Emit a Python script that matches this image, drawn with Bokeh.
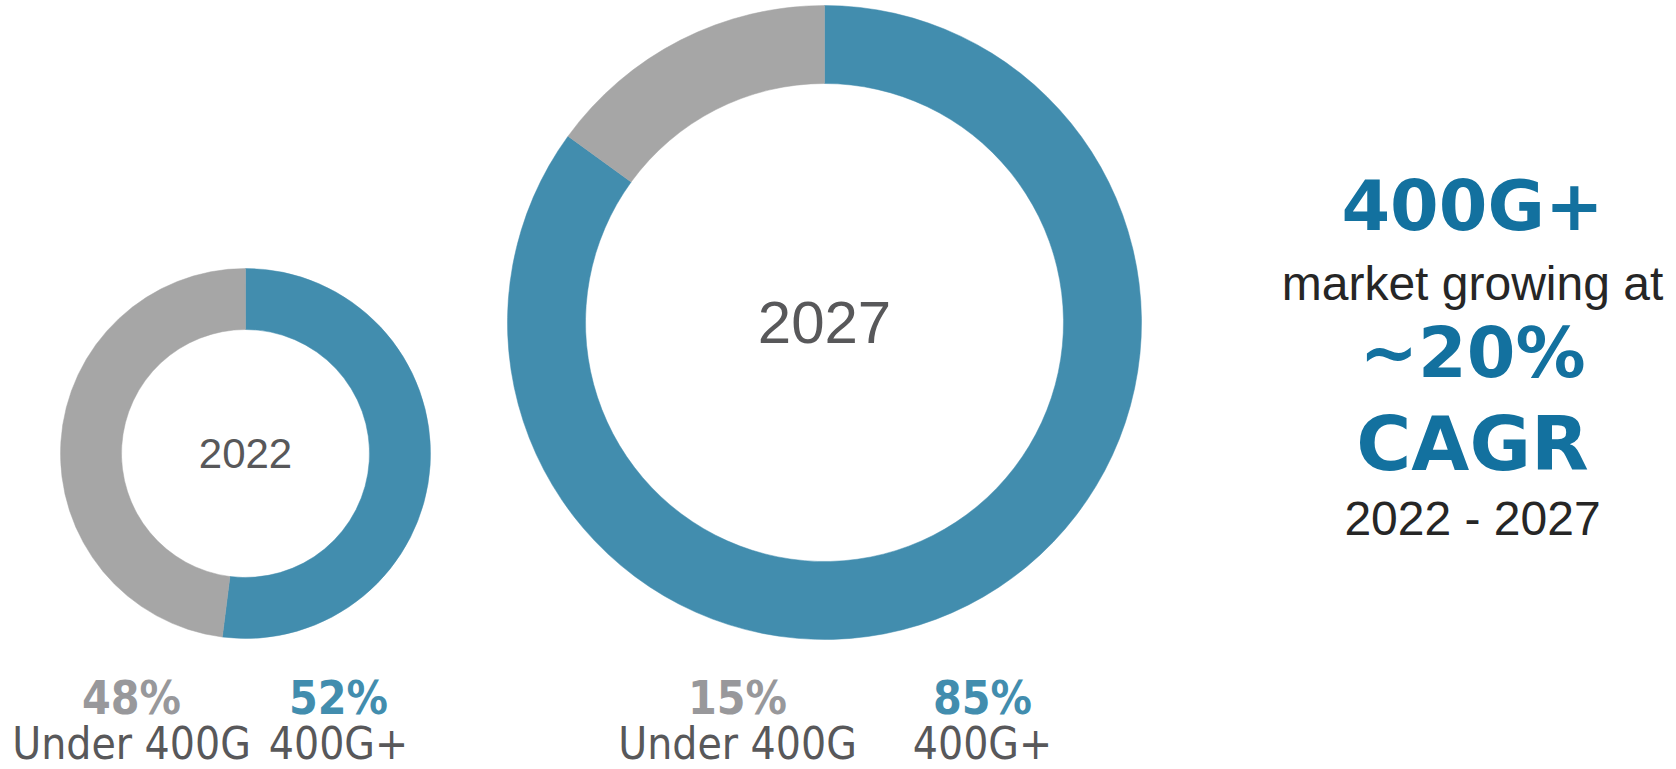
import numpy as np
from bokeh.plotting import figure
from bokeh.models import Range1d
from bokeh.core.properties import value
from bokeh.embed import file_html
from bokeh.resources import INLINE

# ---------------- data ----------------
years = ["2022", "2027"]
categories = ["Under 400G", "400G+"]
under_400g = [48, 15]
plus_400g = [52, 85]

headline = "400G+"
subline = "market growing at"
cagr_value = "~20%"
cagr_label = "CAGR"
period = "2022 - 2027"

# ---------------- style / layout ----------------
BLUE = "#428dae"
GRAY = "#a6a6a6"
GRAY_TXT = "#98989b"
DARK_TXT = "#58585a"
HEAD_BLUE = "#13719f"
BLACK_TXT = "#262626"

REG = "Liberation Sans"
NARROW = "DejaVu Sans Condensed"
HEAVY = "DejaVu Sans"

W, H = 1676, 769


def sx(x):
    return x


def sy(y):
    return H - y


centers_x = [245, 824]
centers_y = [453, 322]
outer_r = [185, 317]
inner_r = [124, 239]
center_font = ["42px", "60px"]
label_x = [[131, 338], [737, 982]]
pct_y = 697
name_y = 743

p = figure(width=W, height=H, x_range=Range1d(0, W), y_range=Range1d(0, H),
           output_backend="svg", toolbar_location=None, min_border=0)
p.axis.visible = False
p.grid.visible = False
p.outline_line_color = None
p.background_fill_color = "white"
p.border_fill_color = "white"

for i, yr in enumerate(years):
    x0, y0 = sx(centers_x[i]), sy(centers_y[i])
    blue_frac = plus_400g[i] / 100.0
    gray_frac = under_400g[i] / 100.0
    # 400G+ clockwise from 12 o'clock
    p.annular_wedge(x=[x0], y=[y0], inner_radius=inner_r[i], outer_radius=outer_r[i],
                    start_angle=[90 - 360 * blue_frac], end_angle=[90],
                    start_angle_units="deg", end_angle_units="deg",
                    fill_color=BLUE, line_color=BLUE, line_width=0.5)
    # Under 400G anticlockwise from 12 o'clock
    p.annular_wedge(x=[x0], y=[y0], inner_radius=inner_r[i], outer_radius=outer_r[i],
                    start_angle=[90], end_angle=[90 + 360 * gray_frac],
                    start_angle_units="deg", end_angle_units="deg",
                    fill_color=GRAY, line_color=GRAY, line_width=0.5)
    p.text(x=[x0], y=[y0], text=[yr], text_align="center", text_baseline="middle",
           text_font=value(REG), text_font_size=center_font[i], text_color=DARK_TXT)
    # bottom labels
    vals = [under_400g[i], plus_400g[i]]
    cols = [GRAY_TXT, BLUE]
    for j in range(2):
        lx = sx(label_x[i][j])
        p.text(x=[lx], y=[sy(pct_y)], text=[f"{vals[j]}%"], text_align="center",
               text_baseline="middle", text_font=value(NARROW), text_font_style="bold",
               text_font_size="46px", text_color=cols[j])
        p.text(x=[lx], y=[sy(name_y)], text=[categories[j]], text_align="center",
               text_baseline="middle", text_font=value(NARROW),
               text_font_size="44px", text_color=DARK_TXT)

# right-hand callout
RX = sx(1472)
p.text(x=[RX], y=[sy(205)], text=[headline], text_align="center", text_baseline="middle",
       text_font=value(HEAVY), text_font_style="bold", text_font_size="70px", text_color=HEAD_BLUE)
p.text(x=[RX], y=[sy(283)], text=[subline], text_align="center", text_baseline="middle",
       text_font=value(REG), text_font_size="48px", text_color=BLACK_TXT)
p.text(x=[RX], y=[sy(352)], text=[cagr_value], text_align="center", text_baseline="middle",
       text_font=value(HEAVY), text_font_style="bold", text_font_size="70px", text_color=HEAD_BLUE)
p.text(x=[RX], y=[sy(443)], text=[cagr_label], text_align="center", text_baseline="middle",
       text_font=value(HEAVY), text_font_style="bold", text_font_size="75px", text_color=HEAD_BLUE)
p.text(x=[RX], y=[sy(518)], text=[period], text_align="center", text_baseline="middle",
       text_font=value(REG), text_font_size="48px", text_color=BLACK_TXT)

open("out.html", "w").write(file_html(p, INLINE))
